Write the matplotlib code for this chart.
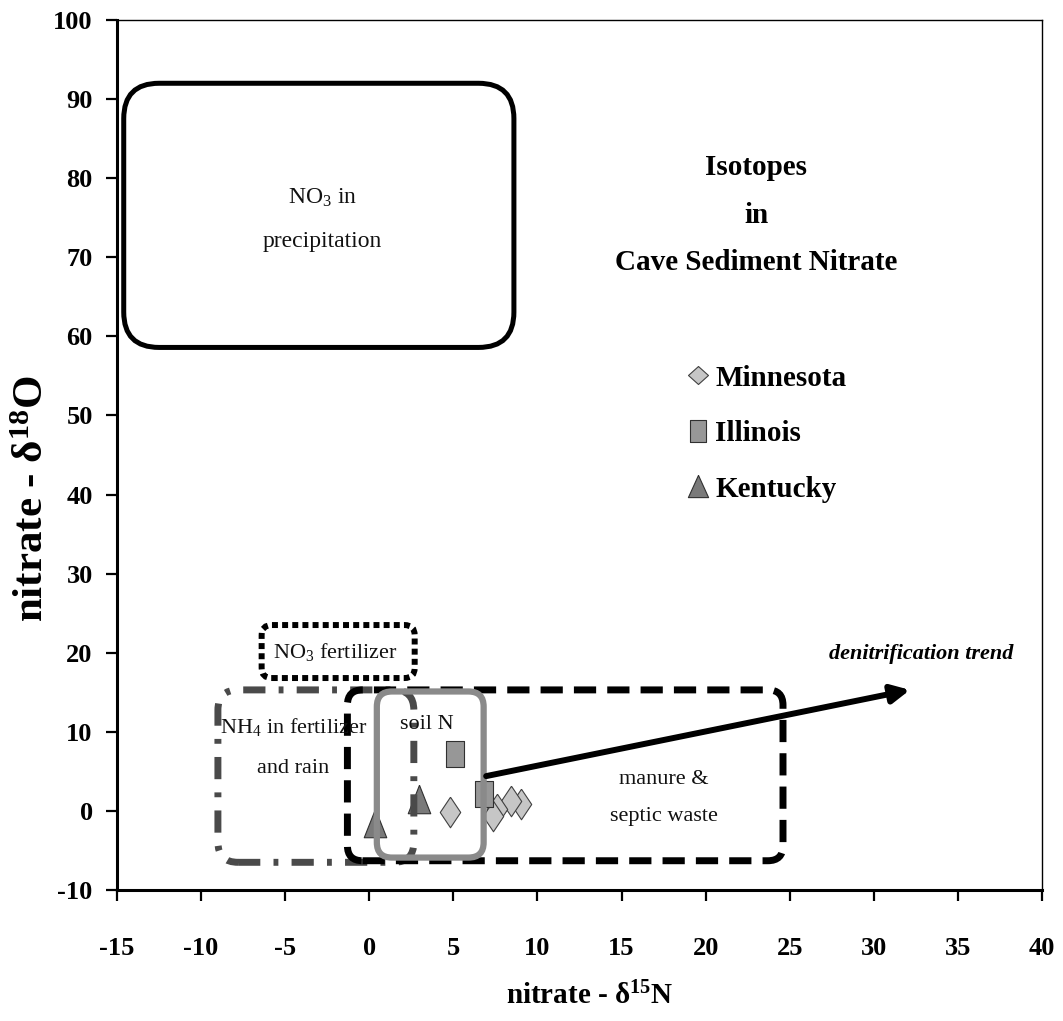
import matplotlib
matplotlib.use('Agg')
import matplotlib.pyplot as plt
from matplotlib.patches import FancyBboxPatch
from matplotlib.lines import Line2D

plt.rcParams['font.family'] = ['Liberation Serif', 'DejaVu Serif']
plt.rcParams['mathtext.default'] = 'regular'
plt.rcParams['axes.unicode_minus'] = False

# nitrate isotope values per state (d15N, d18O)
mn_d15n = [9.0, 8.4, 7.6, 7.35, 4.8]
mn_d18o = [0.9, 1.3, 0.3, -0.6, -0.1]
il_d15n = [5.1, 6.8]
il_d18o = [7.2, 2.1]
ky_d15n = [2.95, 0.35]
ky_d18o = [1.5, -1.5]

# typical source fields (d15N range, d18O range)
src_names = ['precip', 'no3_fert', 'nh4', 'manure', 'soil']
src_x0 = [-14.6, -6.4, -9.0, -1.3, 0.45]
src_x1 = [8.6, 2.7, 2.65, 24.6, 6.8]
src_y0 = [58.6, 16.8, -6.5, -6.3, -5.9]
src_y1 = [92.0, 23.5, 15.3, 15.3, 15.1]

src_text = ['NO$_3$ in\nprecipitation', 'NO$_3$ fertilizer',
            'NH$_4$ in fertilizer\nand rain', 'manure &\nseptic waste', 'soil N']
src_tx = [-2.8, -2.0, -4.5, 17.5, 3.4]
src_ty = [74.8, 20.1, 8.1, 1.6, 10.9]

trend_start = (6.95, 4.4)
trend_end = (32.15, 15.3)

XPX = 16.82   # px per d15N unit
YPX = 7.9     # px per d18O unit
ASPECT = XPX / YPX

box_style = {
    'precip':   dict(ec='black', lw=3.6, ls='-', r=2.1),
    'no3_fert': dict(ec='black', lw=4.3, ls=(0, (1, 0.7)), r=0.6),
    'nh4':      dict(ec='#4a4a4a', lw=5, ls=(0, (3.2, 1.9, 0.7, 1.9)), r=1.2),
    'manure':   dict(ec='black', lw=5, ls=(0, (3.2, 1.6)), r=0.9),
    'soil':     dict(ec='#8a8a8a', lw=4.5, ls='-', r=0.9),
}

# marker shapes (plot markers are a bit taller than wide)
diamond = [(0, 1), (0.67, 0), (0, -1), (-0.67, 0), (0, 1)]
square = [(-0.72, -1), (0.72, -1), (0.72, 1), (-0.72, 1), (-0.72, -1)]
triangle = [(0, 1), (0.79, -1), (-0.79, -1), (0, 1)]
leg_diamond = [(0, 0.9), (1, 0), (0, -0.9), (-1, 0), (0, 0.9)]
leg_square = [(-0.74, -1), (0.74, -1), (0.74, 1), (-0.74, 1), (-0.74, -1)]
leg_triangle = [(0, 1), (0.91, -1), (-0.91, -1), (0, 1)]

fig = plt.figure(figsize=(10.63, 10.21), dpi=100)
ax = fig.add_axes([117 / 1063, 1 - 890 / 1021, 925 / 1063, 870 / 1021])
ax.set_xlim(-15, 40)
ax.set_ylim(-10, 100)

ax.plot(mn_d15n, mn_d18o, ls='none', marker=diamond, ms=22, mfc='#c6c6c6',
        mec='#404040', mew=0.8, zorder=3)
ax.plot(il_d15n, il_d18o, ls='none', marker=square, ms=18.5, mfc='#979797',
        mec='#303030', mew=0.8, zorder=3)
ax.plot(ky_d15n, ky_d18o, ls='none', marker=triangle, ms=20.5, mfc='#7a7a7a',
        mec='#303030', mew=0.8, zorder=3)

for i, name in enumerate(src_names):
    st = box_style[name]
    box = FancyBboxPatch((src_x0[i], src_y0[i]), src_x1[i] - src_x0[i],
                         src_y1[i] - src_y0[i],
                         boxstyle='round,pad=0,rounding_size=%g' % st['r'],
                         mutation_aspect=ASPECT, fill=False, ec=st['ec'],
                         lw=st['lw'], ls=st['ls'], zorder=4)
    ax.add_patch(box)

fs_src = [17, 16, 16, 16, 16]
lsp_src = [2.35, 1.2, 2.5, 2.3, 1.2]
for i in range(len(src_names)):
    ax.text(src_tx[i], src_ty[i], src_text[i], ha='center', va='center',
            fontsize=fs_src[i], linespacing=lsp_src[i], color='#111111', zorder=5)

ax.annotate('', xy=trend_end, xytext=trend_start,
            arrowprops=dict(arrowstyle='-|>,head_length=0.6,head_width=0.3',
                            mutation_scale=18, lw=4.3, color='black',
                            shrinkA=0, shrinkB=0), zorder=5)
ax.text(32.8, 19.9, 'denitrification trend', ha='center', va='center',
        fontsize=16, style='italic', weight='bold')

ax.text(23.0, 75.3, 'Isotopes\nin\nCave Sediment Nitrate', ha='center',
        va='center', fontsize=21, weight='bold', linespacing=1.98)

handles = [
    Line2D([], [], ls='none', marker=leg_diamond, ms=14.4, mfc='#c6c6c6',
           mec='#404040', mew=0.8),
    Line2D([], [], ls='none', marker=leg_square, ms=16.5, mfc='#979797',
           mec='#303030', mew=0.8),
    Line2D([], [], ls='none', marker=leg_triangle, ms=16, mfc='#7a7a7a',
           mec='#303030', mew=0.8),
]
ax.legend(handles, ['Minnesota', 'Illinois', 'Kentucky'], loc='upper left',
          bbox_to_anchor=(0.615, 0.604), frameon=False, borderpad=0,
          borderaxespad=0, handlelength=0.8, handletextpad=0.2,
          labelspacing=0.98, prop=dict(weight='bold', size=21))

ax.set_xticks(range(-15, 41, 5))
ax.set_yticks(range(-10, 101, 10))
ax.tick_params(axis='both', direction='out', length=8, width=1.6,
               labelsize=19)
ax.tick_params(axis='x', pad=26)
ax.tick_params(axis='y', pad=9.5)
for lab in ax.get_xticklabels() + ax.get_yticklabels():
    lab.set_fontweight('bold')

for side in ['left', 'bottom']:
    ax.spines[side].set_linewidth(2.2)
for side in ['top', 'right']:
    ax.spines[side].set_linewidth(1.0)

ax.set_xlabel('nitrate - δ$^{15}$N', fontsize=21, weight='bold')
ax.set_ylabel('nitrate - δ$^{18}$O', fontsize=31, weight='bold')
ax.xaxis.set_label_coords(0.511, -0.105)
ax.yaxis.set_label_coords(-0.070, 0.4506)

fig.savefig('out.png', dpi=100)
